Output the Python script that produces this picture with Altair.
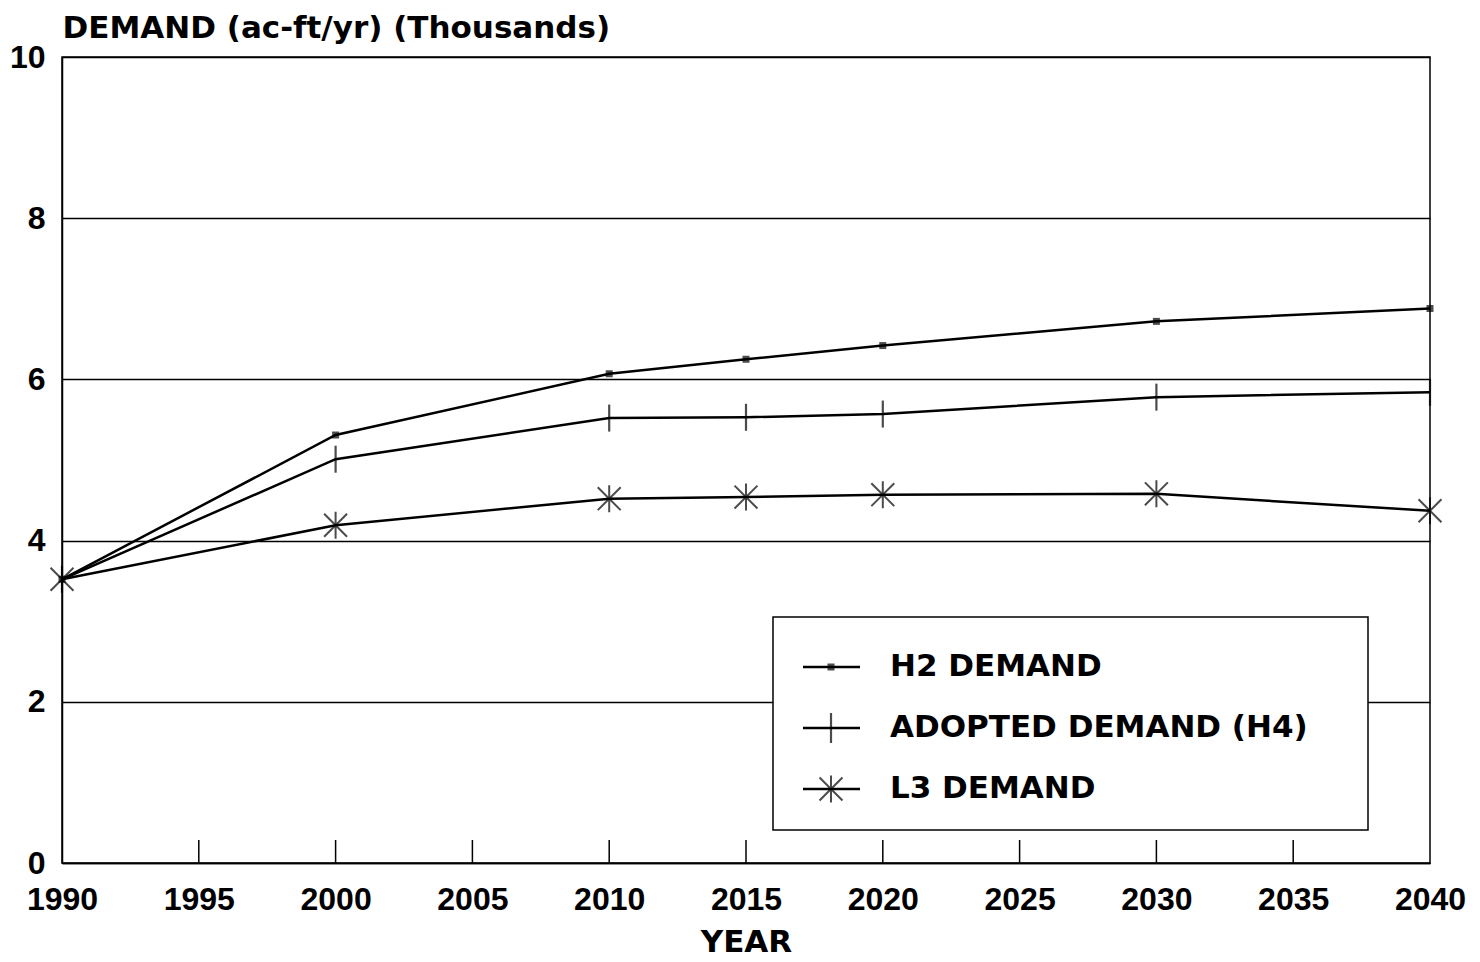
import altair as alt
import pandas as pd

# ---- data ----
years = [1990, 2000, 2010, 2015, 2020, 2030, 2040]
h2_demand = [3.52, 5.31, 6.07, 6.25, 6.42, 6.72, 6.88]
adopted_demand = [3.52, 5.01, 5.52, 5.53, 5.57, 5.78, 5.84]
l3_demand = [3.52, 4.19, 4.52, 4.54, 4.57, 4.58, 4.37]
series_names = ["H2 DEMAND", "ADOPTED DEMAND (H4)", "L3 DEMAND"]
x_ticks = [1990, 1995, 2000, 2005, 2010, 2015, 2020, 2025, 2030, 2035, 2040]
y_ticks = [0, 2, 4, 6, 8, 10]

rows = []
for name, vals in zip(series_names, [h2_demand, adopted_demand, l3_demand]):
    for yr, v in zip(years, vals):
        rows.append({"series": name, "year": yr, "demand": v})
df = pd.DataFrame(rows)
tick_df = pd.DataFrame({"year": x_ticks[1:-1]})
leg_df = pd.DataFrame({"row": [0, 1, 2], "label": series_names})
box_df = pd.DataFrame({"k": [0]})

W, H = 1368, 806
TEXT_FONT = "DejaVu Sans"
NUM_FONT = "Liberation Sans"
PLUS = "M0,-1V1"
STAR = "M0,-1V1M-0.85,-0.85L0.85,0.85M-0.85,0.85L0.85,-0.85"

x_enc = alt.X(
    "year:Q",
    scale=alt.Scale(domain=[1990, 2040], nice=False, zero=False),
    axis=alt.Axis(
        values=x_ticks, format="d", title="YEAR", grid=False, ticks=False,
        domain=True, domainColor="black", domainWidth=1.5,
        labelFont=NUM_FONT, labelFontSize=32, labelFontWeight="bold",
        labelColor="black", labelPadding=21, labelFlush=False,
        titleFont=TEXT_FONT, titleFontSize=31, titleFontWeight="bold",
        titleColor="black", titleY=88, titleBaseline="alphabetic",
    ),
)
y_enc = alt.Y(
    "demand:Q",
    scale=alt.Scale(domain=[0, 10], nice=False),
    axis=alt.Axis(
        values=y_ticks, format="d", title="DEMAND (ac-ft/yr) (Thousands)",
        grid=True, gridColor="black", gridWidth=1.5, gridOpacity=1,
        ticks=False, domain=True, domainColor="black", domainWidth=1.5,
        labelFont=NUM_FONT, labelFontSize=32, labelFontWeight="bold",
        labelColor="black", labelPadding=17,
        titleFont=TEXT_FONT, titleFontSize=31, titleFontWeight="bold",
        titleColor="black", titleAngle=0, titleAlign="left", titleX=0,
        titleY=-20, titleBaseline="alphabetic",
    ),
)

lines = alt.Chart(df).mark_line(color="black", strokeWidth=2.5).encode(
    x=x_enc, y=y_enc, detail="series:N"
)
base = alt.Chart(df).encode(x="year:Q", y="demand:Q")
m_h2 = base.transform_filter(alt.datum.series == series_names[0]).mark_point(
    shape="square", filled=True, size=49, color="black"
)
m_ad = base.transform_filter(alt.datum.series == series_names[1]).mark_point(
    shape=PLUS, filled=False, size=729, color="black", strokeWidth=2.2
)
m_l3 = base.transform_filter(alt.datum.series == series_names[2]).mark_point(
    shape=STAR, filled=False, size=729, color="black", strokeWidth=2
)
inner_ticks = alt.Chart(tick_df).mark_rule(color="black", strokeWidth=1.5).encode(
    x="year:Q", y=alt.value(H), y2=alt.value(H - 23)
)
main = alt.layer(lines, m_h2, m_ad, m_l3, inner_ticks)

# ---- hand-drawn legend box ----
leg_y = alt.Y("row:Q", scale=alt.Scale(domain=[0, 2], range=[610, 732]), axis=None)
box = alt.Chart(box_df).mark_rect(fill="white", stroke="black", strokeWidth=1.5).encode(
    x=alt.value(711), x2=alt.value(1306), y=alt.value(560), y2=alt.value(773)
)
leg_lines = alt.Chart(leg_df).mark_rule(color="black", strokeWidth=2.5).encode(
    x=alt.value(741), x2=alt.value(798), y=leg_y
)
leg_base = alt.Chart(leg_df).encode(x=alt.value(769), y=leg_y)
lm_h2 = leg_base.transform_filter(alt.datum.row == 0).mark_point(
    shape="square", filled=True, size=49, color="black"
)
lm_ad = leg_base.transform_filter(alt.datum.row == 1).mark_point(
    shape=PLUS, filled=False, size=900, color="black", strokeWidth=2.2
)
lm_l3 = leg_base.transform_filter(alt.datum.row == 2).mark_point(
    shape=STAR, filled=False, size=729, color="black", strokeWidth=2
)
leg_text = alt.Chart(leg_df).mark_text(
    align="left", baseline="middle", font=TEXT_FONT, fontSize=31,
    fontWeight="bold", color="black",
).encode(x=alt.value(828), y=leg_y, text="label:N")
legend = alt.layer(box, leg_lines, lm_h2, lm_ad, lm_l3, leg_text)

chart = (
    alt.layer(main, legend)
    .resolve_scale(y="independent")
    .properties(
        width=W, height=H, autosize="none",
        padding={"left": 54, "top": 49, "right": 42, "bottom": 97},
        background="white",
    )
    .configure_view(stroke="black", strokeWidth=1.5)
)

chart.save("out.html", embed_options={"renderer": "svg", "actions": False})
